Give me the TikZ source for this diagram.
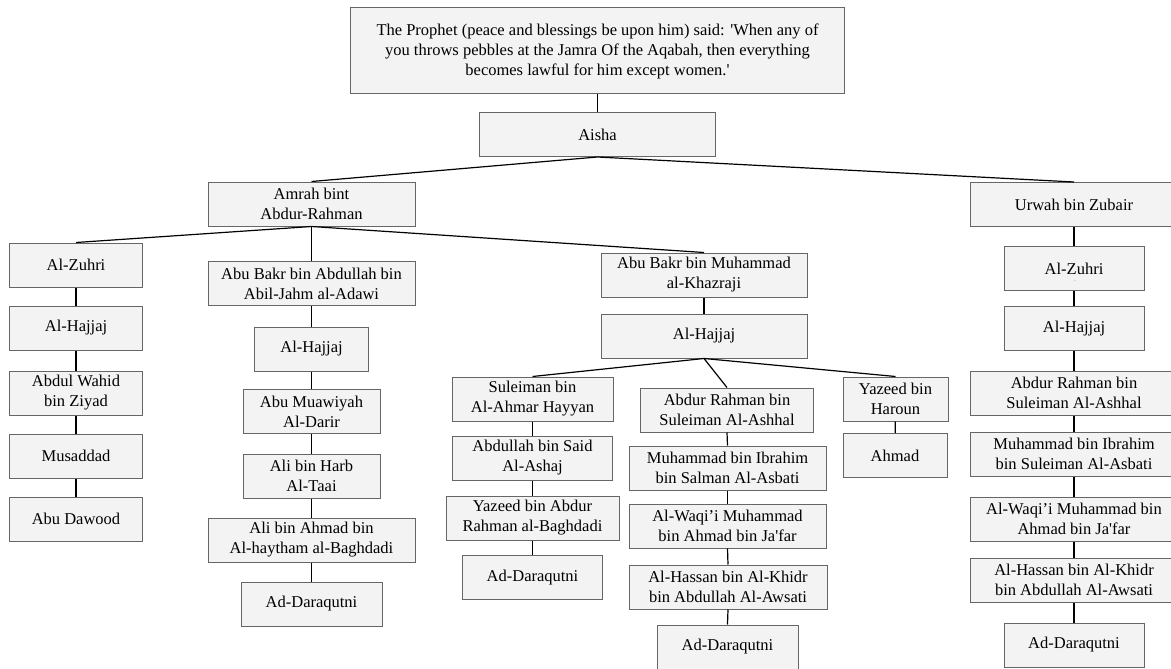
\documentclass[tikz,border=0pt]{standalone}
\usepackage{fontspec}
\setmainfont{Liberation Serif}
\usepackage{xcolor}
\usepackage{tikz}
\definecolor{cellfill}{HTML}{F3F3F3}
\definecolor{cellline}{HTML}{666666}

\begin{document}
\begin{tikzpicture}[x=1pt,y=-1pt,
namecell/.style={draw=cellline,fill=cellfill,line width=1pt, minimum height=44pt, inner sep=1pt, align=center, font=\fontsize{16.5}{20}\selectfont},
link/.style={draw=black,line width=1.2pt}
]
\useasboundingbox (0,0) rectangle (1171,669);

\node[namecell, minimum width=494pt, minimum height=86pt](hadith) at (597.5,51) {The Prophet (peace and blessings be upon him) said: \textquotesingle When any of\\you throws pebbles at the Jamra Of the Aqabah, then everything\\becomes lawful for him except women.\textquotesingle};
\node[namecell, minimum width=236pt](aisha) at (597.5,134.5) {Aisha};

\node[namecell, minimum width=207pt](amrah) at (311.5,204) {Amrah bint\\Abdur-Rahman};
\node[namecell, minimum width=208pt](urwah) at (1074,204.5) {Urwah bin Zubair};

% Amrah -> Al-Zuhri
\node[namecell, minimum width=133pt](za) at (76,265) {Al-Zuhri};
\node[namecell, minimum width=133pt](zb) at (76,328) {Al-Hajjaj};
\node[namecell, minimum width=133pt](zc) at (76,393) {Abdul Wahid\\bin Ziyad};
\node[namecell, minimum width=133pt](zd) at (76,456) {Musaddad};
\node[namecell, minimum width=133pt](ze) at (76,519) {Abu Dawood};

% Amrah -> Abu Bakr bin Abdullah
\node[namecell, minimum width=207pt](aa) at (311.5,283.5) {Abu Bakr bin Abdullah bin\\Abil-Jahm al-Adawi};
\node[namecell, minimum width=114pt](ab) at (311.5,349) {Al-Hajjaj};
\node[namecell, minimum width=137pt](ac) at (311.5,411.5) {Abu Muawiyah\\Al-Darir};
\node[namecell, minimum width=137pt](ad) at (311.5,476) {Ali bin Harb\\Al-Taai};
\node[namecell, minimum width=207pt](ae) at (311.5,540) {Ali bin Ahmad bin\\Al-haytham al-Baghdadi};
\node[namecell, minimum width=141pt](af) at (311.5,604) {Ad-Daraqutni};

% Amrah -> Abu Bakr bin Muhammad
\node[namecell, minimum width=206pt](ma) at (704,275) {Abu Bakr bin Muhammad\\al-Khazraji};
\node[namecell, minimum width=206pt](mb) at (704,336) {Al-Hajjaj};

\node[namecell, minimum width=161pt](sa) at (532.5,399) {Suleiman bin\\Al-Ahmar Hayyan};
\node[namecell, minimum width=160pt](sb) at (532.5,458) {Abdullah bin Said\\Al-Ashaj};
\node[namecell, minimum width=173pt](sc) at (532.5,518) {Yazeed bin Abdur\\Rahman al-Baghdadi};
\node[namecell, minimum width=140pt](sd) at (532.5,577.5) {Ad-Daraqutni};

\node[namecell, minimum width=173pt](ra) at (727,410) {Abdur Rahman bin\\Suleiman Al-Ashhal};
\node[namecell, minimum width=197pt](rb) at (727.5,468) {Muhammad bin Ibrahim\\bin Salman Al-Asbati};
\node[namecell, minimum width=197pt](rc) at (727.5,526) {Al-Waqi’i Muhammad\\bin Ahmad bin Ja\textquotesingle far};
\node[namecell, minimum width=198pt](rd) at (728,587) {Al-Hassan bin Al-Khidr\\bin Abdullah Al-Awsati};
\node[namecell, minimum width=141pt](re) at (727.5,647) {Ad-Daraqutni};

\node[namecell, minimum width=105pt](ya) at (895.5,399) {Yazeed bin\\Haroun};
\node[namecell, minimum width=104pt](yb) at (895,455.5) {Ahmad};

% Urwah chain
\node[namecell, minimum width=140pt](ua) at (1074,268.5) {Al-Zuhri};
\node[font=\tiny](udot) at (1075,281) {.};
\node[namecell, minimum width=140pt](ub) at (1074,328.5) {Al-Hajjaj};
\node[namecell, minimum width=208pt](uc) at (1074,393) {Abdur Rahman bin\\Suleiman Al-Ashhal};
\node[namecell, minimum width=208pt](ud) at (1074,454) {Muhammad bin Ibrahim\\bin Suleiman Al-Asbati};
\node[namecell, minimum width=208pt](ue) at (1074,519) {Al-Waqi’i Muhammad bin\\Ahmad bin Ja\textquotesingle far};
\node[namecell, minimum width=208pt](uf) at (1074,580) {Al-Hassan bin Al-Khidr\\bin Abdullah Al-Awsati};
\node[namecell, minimum width=140pt](ug) at (1074,645) {Ad-Daraqutni};

\draw[link](hadith.south) to (aisha.north);
\draw[link](aisha.south) to (amrah.north);
\draw[link](aisha.south) to (urwah.north);

\draw[link](amrah.south) to (za.north);
\draw[link](amrah.south) to (aa.north);
\draw[link](amrah.south) to (ma.north);

\draw[link](za) to (zb);
\draw[link](zb) to (zc);
\draw[link](zc) to (zd);
\draw[link](zd) to (ze);

\draw[link](aa) to (ab);
\draw[link](ab) to (ac);
\draw[link](ac) to (ad);
\draw[link](ad) to (ae);
\draw[link](ae) to (af);

\draw[link](ma) to (mb);
\draw[link](mb.south) to (sa.north);
\draw[link](mb.south) to (ra.north);
\draw[link](mb.south) to (ya.north);

\draw[link](sa) to (sb);
\draw[link](sb) to (sc);
\draw[link](sc) to (sd);

\draw[link](ra.south) to (rb.north);
\draw[link](rb.south) to (rc.north);
\draw[link](rc.south) to (rd.north);
\draw[link](rd.south) to (re.north);

\draw[link](ya) to (yb);

\draw[link](urwah) to (ua);
\draw[link](ua) to (ub);
\draw[link](ub) to (uc);
\draw[link](uc) to (ud);
\draw[link](ud) to (ue);
\draw[link](ue) to (uf);
\draw[link](uf) to (ug);

\end{tikzpicture}
\end{document}
